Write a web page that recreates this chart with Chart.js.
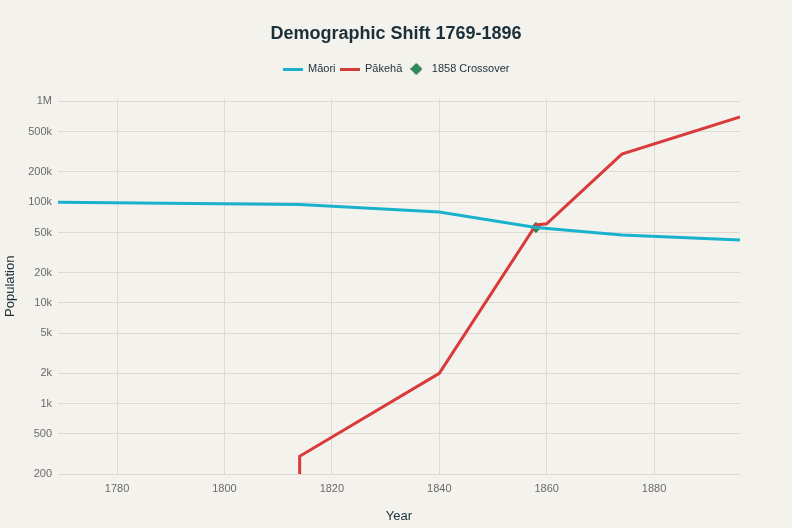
<!DOCTYPE html>
<html>
<head>
<meta charset="utf-8">
<script src="https://cdn.jsdelivr.net/npm/chart.js@4.4.0/dist/chart.umd.min.js"></script>
<style>
  html, body { margin: 0; padding: 0; background: #f4f2ed; }
  #wrap { width: 792px; height: 528px; }
</style>
</head>
<body>
<div id="wrap"><canvas id="myChart" width="792" height="528"></canvas></div>
<script>
// data
const maoriYears = [1769, 1814, 1840, 1858, 1874, 1896];
const maoriPop = [100000, 95000, 80000, 56049, 47330, 42113];

// first 1814 point sits below the axis floor (drawn clipped)
const pakehaYears = [1814, 1814, 1840, 1858, 1860, 1874, 1896];
const pakehaPop = [100, 300, 2000, 59413, 61000, 299514, 701101];

const crossYears = [1858];
const crossPop = [56049];

const xTicks = [1780, 1800, 1820, 1840, 1860, 1880];
const yTicks = [200, 500, 1000, 2000, 5000, 10000, 20000, 50000, 100000, 200000, 500000, 1000000];

const MAORI_COLOR = '#19b2cc';
const PAKEHA_COLOR = '#d93a3a';
const CROSS_COLOR = '#2e8b57';
const TEXT_DARK = '#1b2f38';
const TICK_COLOR = '#6a6a6a';
const GRID_COLOR = '#dddad3';
const FONT = "'Liberation Sans', Arial, sans-serif";

function pairs(xs, ys) {
    return xs.map((x, i) => ({x: x, y: ys[i]}));
}

// small canvases used as legend symbols
function lineSymbol(color) {
    const c = document.createElement('canvas');
    c.width = 20; c.height = 3;
    const g = c.getContext('2d');
    g.fillStyle = color;
    g.fillRect(0, 0, 20, 3);
    return c;
}
function diamondSymbol(color) {
    const c = document.createElement('canvas');
    c.width = 12; c.height = 12;
    const g = c.getContext('2d');
    g.fillStyle = color;
    g.strokeStyle = '#1f6b42';
    g.beginPath();
    g.moveTo(6, 0.5); g.lineTo(11.5, 6); g.lineTo(6, 11.5); g.lineTo(0.5, 6);
    g.closePath();
    g.fill(); g.stroke();
    return c;
}
const legendSymbols = [lineSymbol(MAORI_COLOR), lineSymbol(PAKEHA_COLOR), diamondSymbol(CROSS_COLOR)];

function fmtPop(v) {
    if (v >= 1000000) return (v / 1000000) + 'M';
    if (v >= 1000) return (v / 1000) + 'k';
    return String(v);
}

const bgPlugin = {
    id: 'bg',
    beforeDraw(chart) {
        const c = chart.ctx;
        c.save();
        c.fillStyle = '#f4f2ed';
        c.fillRect(0, 0, chart.width, chart.height);
        c.restore();
    }
};

const ctx = document.getElementById('myChart').getContext('2d');
const myChart = new Chart(ctx, {
    type: 'line',
    data: {
        datasets: [{
            label: 'Māori',
            data: pairs(maoriYears, maoriPop),
            borderColor: MAORI_COLOR,
            borderWidth: 3,
            pointRadius: 0,
            tension: 0
        }, {
            label: 'Pākehā',
            data: pairs(pakehaYears, pakehaPop),
            borderColor: PAKEHA_COLOR,
            borderWidth: 3,
            pointRadius: 0,
            tension: 0,
            clip: 0
        }, {
            label: '1858 Crossover',
            data: pairs(crossYears, crossPop),
            showLine: false,
            pointStyle: 'rectRot',
            pointRadius: 5,
            backgroundColor: CROSS_COLOR,
            borderColor: '#1f6b42',
            borderWidth: 1
        }]
    },
    options: {
        responsive: false,
        animation: false,
        layout: {
            padding: {top: 15.5, right: 0, bottom: 0, left: 0}
        },
        plugins: {
            title: {
                display: true,
                text: 'Demographic Shift 1769-1896',
                color: TEXT_DARK,
                padding: {top: 7.7, bottom: 14.7},
                font: {size: 18, weight: 'bold', family: FONT}
            },
            // empty spacer between legend and plot
            subtitle: {
                display: true,
                text: ' ',
                weight: 500,
                color: 'transparent',
                padding: {top: 0, bottom: 2},
                font: {size: 10, family: FONT}
            },
            legend: {
                position: 'top',
                labels: {
                    usePointStyle: true,
                    pointStyleWidth: 20,
                    padding: 4,
                    color: TEXT_DARK,
                    font: {size: 11, family: FONT},
                    generateLabels(chart) {
                        return chart.data.datasets.map((ds, i) => ({
                            text: ds.label,
                            pointStyle: legendSymbols[i],
                            fillStyle: 'transparent',
                            strokeStyle: 'transparent',
                            lineWidth: 0,
                            fontColor: TEXT_DARK,
                            datasetIndex: i
                        }));
                    }
                }
            },
            tooltip: {enabled: false}
        },
        scales: {
            x: {
                type: 'linear',
                min: 1769,
                max: 1896,
                afterBuildTicks: s => { s.ticks = xTicks.map(v => ({value: v})); },
                afterFit: s => { s.height = 54; },
                grid: {color: GRID_COLOR, drawTicks: false},
                border: {display: false},
                ticks: {
                    color: TICK_COLOR,
                    padding: 8,
                    font: {size: 11, family: FONT},
                    callback: v => String(v)
                },
                title: {
                    display: true,
                    text: 'Year',
                    color: TEXT_DARK,
                    padding: {top: 4, bottom: 4},
                    font: {size: 13, family: FONT}
                }
            },
            y: {
                type: 'logarithmic',
                min: 200,
                max: 1070000,
                afterBuildTicks: s => { s.ticks = yTicks.map(v => ({value: v})); },
                afterFit: s => { s.width = 58; },
                grid: {color: GRID_COLOR, drawTicks: false},
                border: {display: false},
                ticks: {
                    color: TICK_COLOR,
                    padding: 6,
                    font: {size: 11, family: FONT},
                    callback: v => fmtPop(v)
                },
                title: {
                    display: true,
                    text: 'Population',
                    color: TEXT_DARK,
                    padding: {top: 3, bottom: 2},
                    font: {size: 13, family: FONT}
                }
            },
            // blank right margin so title and legend stay centred on the page
            yRight: {
                position: 'right',
                afterFit: s => { s.width = 52; },
                grid: {display: false},
                border: {display: false},
                ticks: {display: false}
            }
        }
    },
    plugins: [bgPlugin]
});
</script>
</body>
</html>
